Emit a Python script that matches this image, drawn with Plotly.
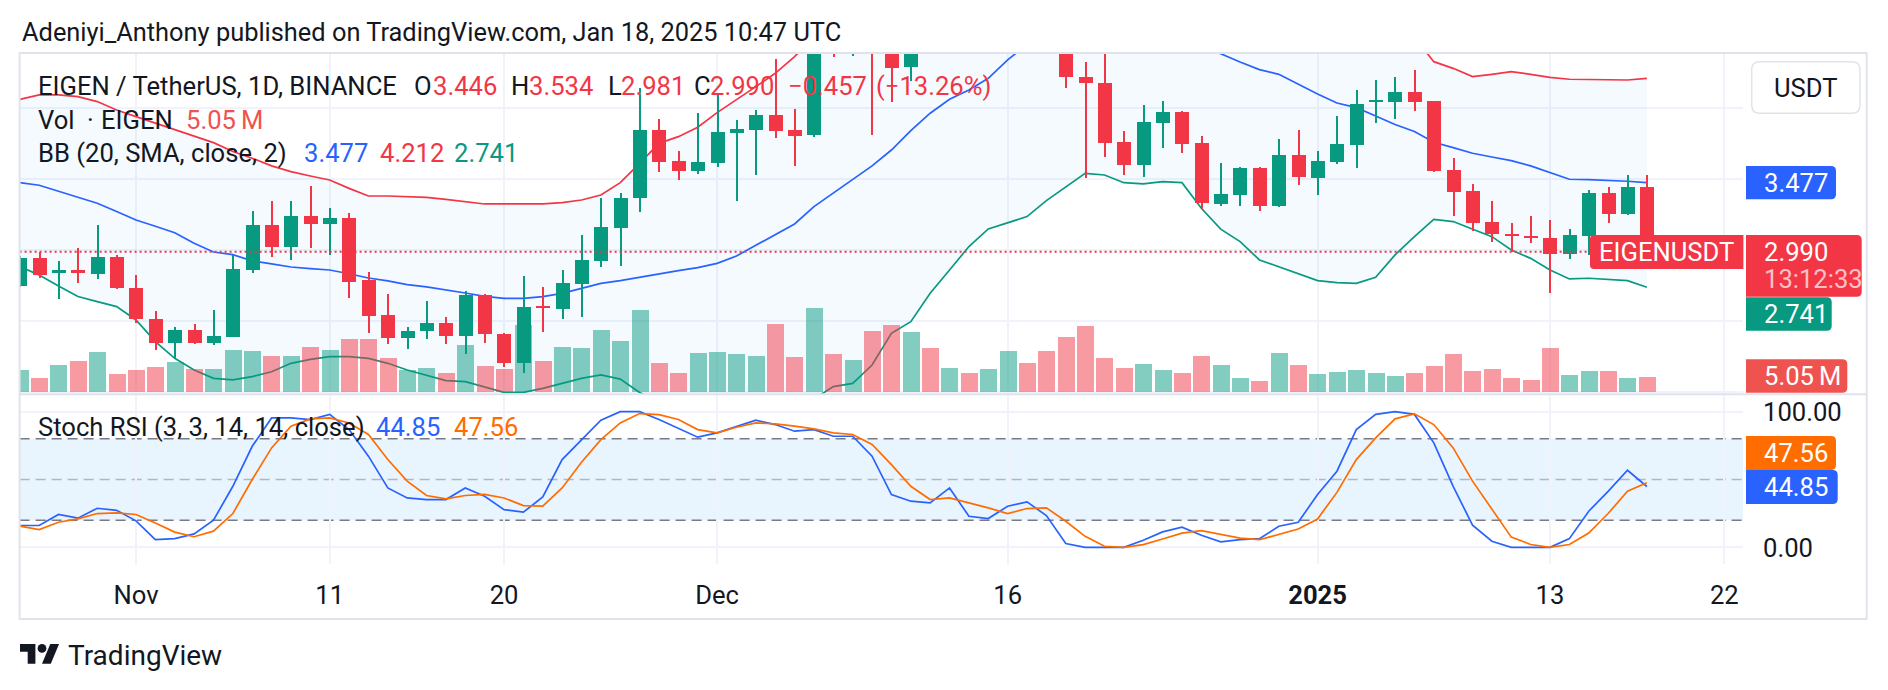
import pandas as pd
import plotly.graph_objects as go

W, H = 1888, 690

# ---------------- data ----------------
DATES = pd.date_range("2024-10-26", "2025-01-18", freq="D")

OPEN = [2.750, 2.944, 2.839, 2.862, 2.834, 2.956,
        2.733, 2.515, 2.346, 2.440, 2.346, 2.393, 2.862, 3.179, 3.027, 3.243,
        3.184, 3.226, 2.792, 2.545, 2.386, 2.433, 2.487, 2.398, 2.686, 2.412,
        2.210, 2.609, 2.585, 2.761, 2.928, 3.160, 3.367, 3.848, 3.630, 3.562,
        3.618, 3.829, 3.848, 3.954, 3.848, 3.813, 4.600, 4.480, 4.800, 4.500,
        4.294, 4.700, 4.550, 4.800, 4.700, 4.950, 5.150, 4.900, 4.550, 4.219,
        4.182, 3.766, 3.602, 3.895, 3.977, 3.759, 3.327, 3.390, 3.583, 3.315, 3.672,
        3.513, 3.625, 3.743, 4.048, 4.048, 4.118, 4.052, 3.567, 3.419, 3.198,
        3.116, 3.102, 3.085, 2.973, 3.102, 3.402, 3.254, 3.446]
HIGH = [2.960, 2.991, 2.926, 3.015, 3.179, 2.968,
        2.827, 2.574, 2.463, 2.482, 2.581, 2.968, 3.278, 3.348, 3.348, 3.454,
        3.297, 3.261, 2.851, 2.691, 2.463, 2.644, 2.534, 2.717, 2.690, 2.416,
        2.820, 2.745, 2.862, 3.109, 3.367, 3.402, 4.142, 3.923, 3.700, 3.970,
        4.099, 3.919, 3.989, 4.346, 3.994, 4.750, 4.750, 4.900, 4.950, 4.600,
        4.800, 4.850, 4.900, 4.880, 5.050, 5.300, 5.200, 4.950, 4.650, 4.329,
        4.420, 3.843, 4.024, 4.052, 3.980, 3.806, 3.613, 3.585, 3.590, 3.785, 3.848,
        3.700, 3.947, 4.130, 4.200, 4.224, 4.271, 4.055, 3.649, 3.468, 3.348,
        3.191, 3.245, 3.214, 3.149, 3.426, 3.449, 3.531, 3.534]
LOW = [2.740, 2.804, 2.656, 2.773, 2.799, 2.730,
       2.491, 2.299, 2.240, 2.341, 2.334, 2.390, 2.839, 2.956, 2.933, 3.015,
       2.968, 2.667, 2.421, 2.341, 2.304, 2.374, 2.339, 2.271, 2.351, 2.177,
       2.139, 2.428, 2.515, 2.529, 2.886, 2.890, 3.273, 3.555, 3.496, 3.538,
       3.590, 3.351, 3.531, 3.790, 3.595, 3.797, 4.360, 4.370, 3.813, 4.047,
       4.190, 4.450, 4.500, 4.620, 4.650, 4.850, 4.750, 4.450, 4.142, 3.508,
       3.660, 3.531, 3.520, 3.724, 3.684, 3.290, 3.315, 3.313, 3.280, 3.304, 3.461,
       3.390, 3.609, 3.578, 3.895, 3.926, 3.984, 3.555, 3.245, 3.139, 3.062,
       2.991, 3.055, 2.698, 2.937, 2.968, 3.196, 3.250, 2.981]
CLOSE = [2.944, 2.827, 2.862, 2.839, 2.951, 2.733,
         2.515, 2.346, 2.440, 2.351, 2.398, 2.867, 3.179, 3.027, 3.243, 3.184,
         3.226, 2.780, 2.541, 2.386, 2.433, 2.487, 2.398, 2.686, 2.409, 2.210,
         2.604, 2.597, 2.768, 2.933, 3.163, 3.367, 3.848, 3.625, 3.562, 3.620,
         3.834, 3.853, 3.954, 3.843, 3.806, 4.600, 4.480, 4.800, 4.500, 4.283,
         4.700, 4.550, 4.800, 4.700, 4.950, 5.150, 4.900, 4.550, 4.224, 4.182,
         3.759, 3.602, 3.907, 3.977, 3.750, 3.332, 3.397, 3.578, 3.315, 3.672, 3.515,
         3.630, 3.750, 4.031, 4.059, 4.118, 4.048, 3.560, 3.414, 3.196, 3.113,
         3.102, 3.085, 2.973, 3.109, 3.402, 3.254, 3.449, 2.990]
VOLUME_M = [7.5, 4.7, 9.2, 10.6, 13.5, 6.2,
            7.5, 8.4, 10.1, 7.8, 7.8, 14.3, 13.9, 12.2, 12.2, 15.2,
            14.3, 17.9, 17.9, 11.5, 7.5, 8.1, 6.4, 16.0, 8.9, 7.9,
            22.7, 10.6, 15.2, 14.8, 21.0, 17.3, 27.8, 10.0, 6.6, 13.4,
            13.7, 12.9, 12.2, 23.0, 12.0, 28.5, 12.9, 10.9, 20.7, 22.7,
            20.2, 15.1, 8.1, 6.6, 7.9, 13.9, 10.0, 13.9, 18.8, 22.4,
            11.5, 8.1, 9.6, 7.5, 6.6, 12.2, 9.2, 4.9, 3.9, 13.4, 9.2,
            6.2, 7.0, 7.5, 6.6, 5.5, 6.6, 9.0, 12.9, 7.2, 7.9,
            4.9, 4.2, 15.1, 5.8, 7.2, 7.2, 4.9, 5.05]
BB_UPPER = [4.064, 4.095, 4.095, 4.083, 4.048, 3.989,
            3.942, 3.895, 3.853, 3.801, 3.759, 3.696, 3.649, 3.595, 3.555, 3.524,
            3.496, 3.437, 3.383, 3.383, 3.379, 3.374, 3.360, 3.343, 3.327, 3.327,
            3.327, 3.327, 3.336, 3.355, 3.390, 3.477, 3.613, 3.754, 3.801, 3.867,
            3.970, 4.059, 4.153, 4.247, 4.365, 4.500, 4.650, 4.800, 4.950, 5.080,
            5.200, 5.300, 5.380, 5.440, 5.480, 5.500, 5.520, 5.520, 5.500, 5.470,
            5.430, 5.380, 5.330, 5.270, 5.210, 5.150, 5.090, 5.030, 4.970, 4.910, 4.850,
            4.790, 4.730, 4.670, 4.610, 4.550, 4.500, 4.329, 4.282, 4.224, 4.240,
            4.259, 4.240, 4.219, 4.205, 4.205, 4.205, 4.200, 4.212]
BB_BASIS = [3.477, 3.459, 3.417, 3.376, 3.332, 3.274,
            3.214, 3.170, 3.125, 3.050, 2.989, 2.970, 2.926, 2.905, 2.883, 2.872,
            2.862, 2.836, 2.806, 2.785, 2.759, 2.743, 2.724, 2.700, 2.677, 2.663,
            2.663, 2.675, 2.698, 2.731, 2.768, 2.787, 2.811, 2.839, 2.858, 2.879,
            2.909, 2.961, 3.038, 3.109, 3.186, 3.308, 3.402, 3.501, 3.595, 3.707,
            3.843, 3.966, 4.064, 4.130, 4.212, 4.341, 4.450, 4.500, 4.540, 4.560,
            4.570, 4.560, 4.530, 4.500, 4.460, 4.420, 4.385, 4.327, 4.273, 4.240, 4.170,
            4.102, 4.038, 4.005, 3.947, 3.886, 3.837, 3.761, 3.724, 3.684, 3.658,
            3.632, 3.595, 3.548, 3.501, 3.499, 3.494, 3.487, 3.477]
BB_LOWER = [2.886, 2.827, 2.750, 2.675, 2.639, 2.604,
            2.510, 2.358, 2.240, 2.158, 2.099, 2.088, 2.111, 2.146, 2.205, 2.233,
            2.252, 2.252, 2.240, 2.205, 2.158, 2.123, 2.083, 2.076, 2.041, 2.001,
            2.001, 2.029, 2.064, 2.099, 2.123, 2.094, 2.000, 1.930, 1.890, 1.870,
            1.860, 1.870, 1.890, 1.920, 1.940, 1.954, 2.041, 2.064, 2.193, 2.416,
            2.498, 2.698, 2.862, 3.027, 3.151, 3.196, 3.238, 3.351, 3.449, 3.543,
            3.531, 3.477, 3.468, 3.484, 3.477, 3.297, 3.150, 3.062, 2.933, 2.886, 2.839,
            2.787, 2.773, 2.768, 2.811, 2.968, 3.097, 3.219, 3.203, 3.149, 3.097,
            3.003, 2.944, 2.862, 2.799, 2.804, 2.797, 2.787, 2.741]
STOCH_K = [16.1, 16.1, 24.2, 21.5, 28.8, 27.3,
           19.5, 5.7, 6.4, 9.9, 20.0, 45.0, 74.5, 95.4, 95.4, 94.2,
           98.0, 86.8, 67.2, 43.8, 36.4, 35.2, 35.2, 43.8, 37.6, 27.8,
           25.9, 37.2, 64.7, 79.4, 93.7, 100, 100, 94.2, 88.0, 81.2,
           84.4, 88.8, 93.7, 90.5, 85.6, 86.8, 81.9, 81.9, 67.2, 38.9,
           34.0, 32.8, 43.8, 22.9, 21.2, 30.3, 33.5, 23.4, 2.8, 0,
           0, 0, 5.2, 11.4, 14.8, 8.9, 4.0, 5.7, 6.4, 15.5, 18.5,
           38.9, 56.1, 86.8, 98.0, 100, 98.0, 77.0, 45.0, 16.3, 4.5,
           0, 0, 0, 6.4, 26.6, 41.3, 56.8, 44.85]
STOCH_D = [15.6, 13.1, 18.5, 21.0, 24.9, 25.4,
           24.2, 18.0, 11.2, 7.8, 11.9, 24.9, 50.0, 73.3, 89.3, 94.7,
           95.4, 91.7, 83.2, 64.7, 48.8, 38.2, 35.7, 38.2, 39.0, 36.4,
           30.8, 30.3, 43.8, 62.7, 79.4, 91.7, 98.6, 97.8, 94.2, 86.8,
           84.4, 88.5, 91.7, 91.0, 89.3, 87.3, 84.4, 83.2, 75.8, 61.0,
           45.0, 35.2, 36.4, 32.8, 29.1, 24.9, 28.6, 29.1, 19.2, 8.1,
           0.8, 0, 2.0, 6.1, 10.5, 12.3, 9.3, 6.8, 5.6, 9.3, 13.5,
           20.9, 40.5, 64.7, 80.7, 94.7, 98.4, 90.5, 73.3, 48.8, 27.9,
           7.5, 2.1, 0, 2.1, 10.5, 24.9, 41.3, 47.56]

TICK_DATES = ["2024-11-01", "2024-11-11", "2024-11-20", "2024-12-01",
              "2024-12-16", "2025-01-01", "2025-01-13", "2025-01-22"]
TICK_TEXT = ["Nov", "11", "20", "Dec", "16", "<b>2025</b>", "13", "22"]

# ---------------- styling / layout constants ----------------
UP, DOWN = "#089981", "#f23645"
UP_VOL, DOWN_VOL = "rgba(8,153,129,0.5)", "rgba(242,54,69,0.5)"
BLUE, ORANGE, TXT = "#2962ff", "#ff6d00", "#131722"
GRID, BORDER = "#f0f3fa", "#e0e3eb"
FONT = "Roboto"
FS = 25.6

PANE_L, PANE_R = 19.6, 1743.0
MAIN_T, MAIN_B = 53.0, 394.0
ST_T, ST_B = 395.0, 564.0
NOV1_PX, PX_PER_DAY = 136.0, 19.37


def fx(p):
    return p / W


def fy(p):
    return 1 - p / H


nov1 = pd.Timestamp("2024-11-01")
x_range = [nov1 + pd.Timedelta(days=(PANE_L - NOV1_PX) / PX_PER_DAY),
           nov1 + pd.Timedelta(days=(PANE_R - NOV1_PX) / PX_PER_DAY)]
DAY_MS = 86400000.0
body_w = 14.0 / PX_PER_DAY * DAY_MS
wick_w = 2.0 / PX_PER_DAY * DAY_MS
vol_w = 17.0 / PX_PER_DAY * DAY_MS

up = [c >= o for o, c in zip(OPEN, CLOSE)]
ccol = [UP if u else DOWN for u in up]
vcol = [UP_VOL if u else DOWN_VOL for u in up]

fig = go.Figure()

# Bollinger bands (base price axis)
fig.add_trace(go.Scatter(x=DATES, y=BB_UPPER, mode="lines", line=dict(color=DOWN, width=1.7),
                         xaxis="x", yaxis="y"))
fig.add_trace(go.Scatter(x=DATES, y=BB_LOWER, mode="lines", line=dict(color=UP, width=1.7),
                         fill="tonexty", fillcolor="rgba(33,150,243,0.05)", xaxis="x", yaxis="y"))
fig.add_trace(go.Scatter(x=DATES, y=BB_BASIS, mode="lines", line=dict(color=BLUE, width=1.7),
                         xaxis="x", yaxis="y"))

# Volume
fig.add_trace(go.Bar(x=DATES, y=VOLUME_M, width=vol_w, marker=dict(color=vcol, line=dict(width=0)),
                     xaxis="x", yaxis="y2"))

# Candles: wicks and bodies
fig.add_trace(go.Bar(x=DATES, y=[h - l for h, l in zip(HIGH, LOW)], base=LOW, width=wick_w,
                     marker=dict(color=ccol, line=dict(width=0)), xaxis="x", yaxis="y3"))
fig.add_trace(go.Bar(x=DATES, y=[max(abs(c - o), 0.008) for o, c in zip(OPEN, CLOSE)],
                     base=[min(o, c) for o, c in zip(OPEN, CLOSE)], width=body_w,
                     marker=dict(color=ccol, line=dict(width=0)), xaxis="x", yaxis="y3"))

# Stoch RSI
fig.add_trace(go.Scatter(x=DATES, y=STOCH_K, mode="lines", line=dict(color=BLUE, width=1.7),
                         xaxis="x2", yaxis="y4"))
fig.add_trace(go.Scatter(x=DATES, y=STOCH_D, mode="lines", line=dict(color=ORANGE, width=1.7),
                         xaxis="x2", yaxis="y4"))

price_range = [1.989, 4.390]
fig.update_layout(
    width=W, height=H, margin=dict(l=0, r=0, t=0, b=0),
    paper_bgcolor="white", plot_bgcolor="rgba(0,0,0,0)",
    showlegend=False, hovermode=False, barmode="overlay", bargap=0,
    xaxis=dict(type="date", domain=[fx(PANE_L), fx(PANE_R)], range=x_range, anchor="y",
               tickvals=TICK_DATES, showticklabels=False, showgrid=True, gridcolor=GRID,
               gridwidth=1.5, zeroline=False, showline=False, ticks=""),
    yaxis=dict(domain=[fy(MAIN_B), fy(MAIN_T)], range=price_range, tickvals=[2.0, 2.5, 3.0, 3.5, 4.0],
               showticklabels=False, showgrid=True, gridcolor=GRID, gridwidth=1.5,
               zeroline=False, showline=False, ticks=""),
    yaxis2=dict(overlaying="y", range=[-0.563, 114.4], visible=False),
    yaxis3=dict(overlaying="y", range=price_range, visible=False),
    xaxis2=dict(type="date", domain=[fx(PANE_L), fx(PANE_R)], range=x_range, anchor="y4",
                tickvals=TICK_DATES, ticktext=TICK_TEXT, showgrid=True, gridcolor=GRID,
                gridwidth=1.5, zeroline=False, showline=False, ticks="outside", ticklen=8,
                tickcolor="rgba(0,0,0,0)", tickfont=dict(family=FONT, size=FS, color=TXT)),
    yaxis4=dict(domain=[fy(ST_B), fy(ST_T)], range=[-12.3, 112.3], tickvals=[0, 100],
                showticklabels=False, showgrid=True, gridcolor=GRID, gridwidth=1.5,
                zeroline=False, showline=False, ticks=""),
)

shapes = []
annotations = []

# Stoch band and levels
shapes.append(dict(type="rect", xref="paper", yref="y4", x0=fx(PANE_L), x1=fx(PANE_R), y0=20, y1=80,
                   fillcolor="rgba(33,150,243,0.1)", line=dict(width=0), layer="below"))
for lvl, col in [(80, "#787b86"), (50, "rgba(120,123,134,0.5)"), (20, "#787b86")]:
    shapes.append(dict(type="line", xref="paper", yref="y4", x0=fx(PANE_L), x1=fx(PANE_R), y0=lvl, y1=lvl,
                       line=dict(color=col, width=1.5, dash="10px,6px"), layer="below"))

# last price line
shapes.append(dict(type="line", xref="paper", yref="y", x0=fx(PANE_L), x1=fx(PANE_R),
                   y0=CLOSE[-1], y1=CLOSE[-1], line=dict(color=DOWN, width=2, dash="2px,3px"),
                   layer="above"))

# frame and pane separator
shapes.append(dict(type="rect", xref="paper", yref="paper", x0=fx(PANE_L), x1=fx(1866.7),
                   y0=fy(619), y1=fy(MAIN_T), line=dict(color=BORDER, width=2), fillcolor="rgba(0,0,0,0)"))
shapes.append(dict(type="line", xref="paper", yref="paper", x0=fx(PANE_L), x1=fx(1866.7),
                   y0=fy(394.3), y1=fy(394.3), line=dict(color=BORDER, width=2)))


def rbox(x0, y0, x1, y1, color, rr=5, rl=0, line=None):
    pts = (f"M{fx(x0 + rl)},{fy(y0)} L{fx(x1 - rr)},{fy(y0)} Q{fx(x1)},{fy(y0)} {fx(x1)},{fy(y0 + rr)} "
           f"L{fx(x1)},{fy(y1 - rr)} Q{fx(x1)},{fy(y1)} {fx(x1 - rr)},{fy(y1)} "
           f"L{fx(x0 + rl)},{fy(y1)} Q{fx(x0)},{fy(y1)} {fx(x0)},{fy(y1 - rl)} "
           f"L{fx(x0)},{fy(y0 + rl)} Q{fx(x0)},{fy(y0)} {fx(x0 + rl)},{fy(y0)} Z")
    shapes.append(dict(type="path", xref="paper", yref="paper", path=pts, fillcolor=color,
                       line=line if line else dict(width=0), layer="above"))


def txt(x, y, s, color=TXT, size=FS, anchor="left"):
    annotations.append(dict(x=fx(x), y=fy(y), xref="paper", yref="paper", text=s, showarrow=False,
                            xanchor=anchor, yanchor="middle", borderpad=0,
                            font=dict(family=FONT, size=size, color=color)))


# title
txt(20.5, 32, "Adeniyi_Anthony published on TradingView.com, Jan 18, 2025 10:47 UTC", size=25.4)

# legend lines
txt(36.7, 86, "EIGEN / TetherUS, 1D, BINANCE")
txt(413.3, 86, "O")
txt(431.7, 86, "3.446", DOWN)
txt(510, 86, "H")
txt(528.3, 86, "3.534", DOWN)
txt(606.7, 86, "L")
txt(620, 86, "2.981", DOWN)
txt(692.7, 86, "C")
txt(709, 86, "2.990", DOWN)
txt(787, 86, "\u22120.457", DOWN)
txt(875, 86, "(\u221213.26%)", DOWN)
txt(36.7, 120, "Vol")
txt(90, 120, "\u00b7", anchor="center")
txt(100, 120, "EIGEN")
txt(185, 120, "5.05\u2009M", "#ef5350")
txt(36.7, 153.3, "BB (20, SMA, close, 2)")
txt(303.3, 153.3, "3.477", BLUE)
txt(379, 153.3, "4.212", DOWN)
txt(453.3, 153.3, "2.741", UP)
txt(36.7, 427.3, "Stoch RSI (3, 3, 14, 14, close)")
txt(374.8, 427.3, "44.85", BLUE)
txt(453, 427.3, "47.56", ORANGE)

# right scale labels
rbox(1751.7, 61.7, 1860, 113.3, "white", rr=8, rl=8, line=dict(color=BORDER, width=1.5))
txt(1806, 87.5, "USDT", anchor="center")
rbox(1746, 166, 1836, 199.3, BLUE)
txt(1762.7, 182.7, "3.477", "white")
rbox(1746, 235, 1861.7, 296.7, DOWN)
txt(1762.7, 252.3, "2.990", "white")
txt(1762.7, 279.3, "13:12:33", "rgba(255,255,255,0.7)")
rbox(1746, 297.3, 1831.7, 330.7, UP)
txt(1762.7, 314, "2.741", "white")
rbox(1746, 359.3, 1847.3, 392.7, "#ef5350")
txt(1762.7, 376, "5.05\u2009M", "white")
rbox(1590, 235, 1743.4, 269, DOWN, rr=0, rl=4)
txt(1666.7, 252, "EIGENUSDT", "white", anchor="center")

txt(1761.7, 411.7, "100.00")
rbox(1746, 436, 1836, 470, ORANGE)
txt(1762.7, 453, "47.56", "white")
rbox(1746, 470, 1837.7, 504, BLUE)
txt(1762.7, 487, "44.85", "white")
txt(1762, 548.3, "0.00")

# TradingView logo
def lx(v):
    return fx(20 + 1.1 * v)


def ly(v):
    return fy(639.6 + 1.1 * v)


p1 = [(14, 22), (7, 22), (7, 11), (0, 11), (0, 4), (14, 4)]
p2 = [(28, 22), (20, 22), (27.5, 4), (35.5, 4)]
for poly in (p1, p2):
    d = "M" + " L".join(f"{lx(a)},{ly(b)}" for a, b in poly) + " Z"
    shapes.append(dict(type="path", xref="paper", yref="paper", path=d, fillcolor=TXT, line=dict(width=0)))
shapes.append(dict(type="circle", xref="paper", yref="paper", x0=lx(16), x1=lx(24), y0=ly(12), y1=ly(4),
                   fillcolor=TXT, line=dict(width=0)))
txt(66.7, 655, "TradingView", size=28)

fig.update_layout(shapes=shapes, annotations=annotations)
fig.write_html("out.html")
